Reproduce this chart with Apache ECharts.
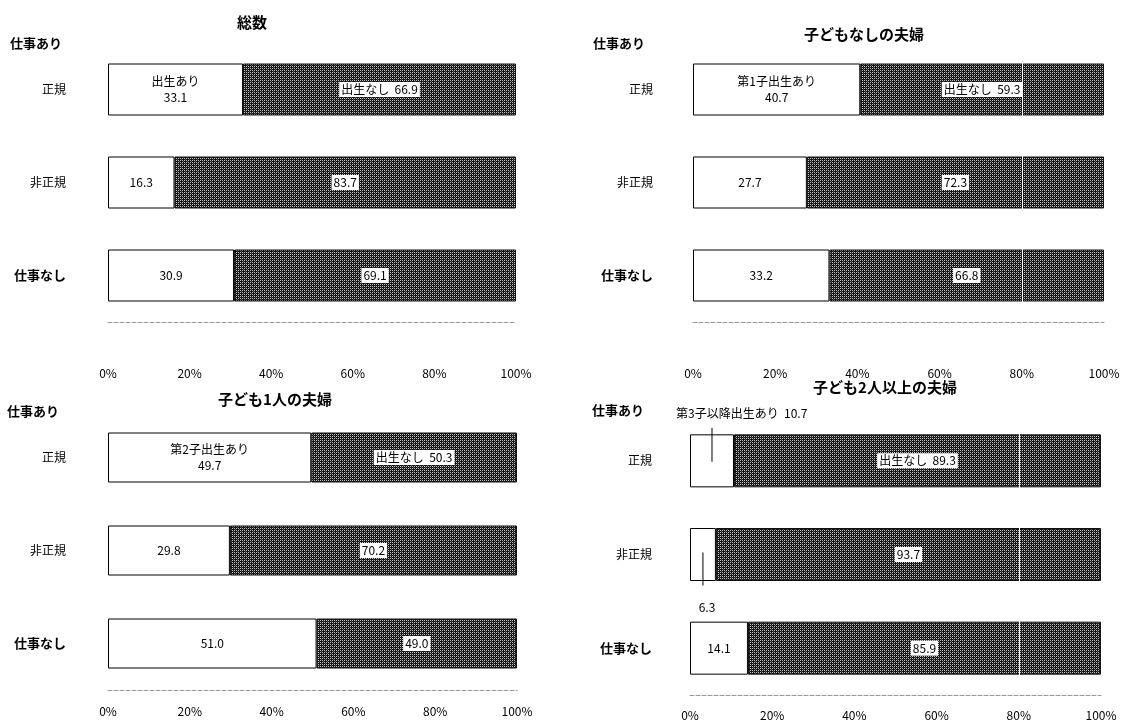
<!DOCTYPE html>
<html>
<head>
<meta charset="utf-8">
<script src="https://cdn.jsdelivr.net/npm/echarts@6/dist/echarts.min.js"></script>
<style>
html,body{margin:0;padding:0;background:#fff;}
#main{width:1132px;height:724px;}
</style>
</head>
<body>
<div id="main"></div>
<script>
// 行ラベル
var rows = ['正規', '非正規', '仕事なし'];
var titles = ['総数', '子どもなしの夫婦', '子ども1人の夫婦', '子ども2人以上の夫婦'];
var yesNames = ['出生あり', '第1子出生あり', '第2子出生あり', '第3子以降出生あり'];
var noName = '出生なし';
var xTicks = [0, 20, 40, 60, 80, 100];

// 総数
var totalYes = [33.1, 16.3, 30.9];
var totalNo = [66.9, 83.7, 69.1];
// 子どもなしの夫婦
var noneYes = [40.7, 27.7, 33.2];
var noneNo = [59.3, 72.3, 66.8];
// 子ども1人の夫婦
var oneYes = [49.7, 29.8, 51.0];
var oneNo = [50.3, 70.2, 49.0];
// 子ども2人以上の夫婦
var twoYes = [10.7, 6.3, 14.1];
var twoNo = [89.3, 93.7, 85.9];

var yesData = [totalYes, noneYes, oneYes, twoYes];
var noData = [totalNo, noneNo, oneNo, twoNo];

var font = '"Noto Sans CJK JP", sans-serif';

// 網掛けパターン
var pat = document.createElement('canvas');
pat.width = 4; pat.height = 4;
var pc = pat.getContext('2d');
pc.fillStyle = '#141414';
pc.fillRect(0, 0, 4, 4);
pc.fillStyle = '#c4c4c4';
[[0,0],[2,0],[0,2],[2,2]].forEach(function(p){ pc.fillRect(p[0], p[1], 1, 1); });
pc.fillStyle = '#4a4a4a';
[[1,3],[3,1]].forEach(function(p){ pc.fillRect(p[0], p[1], 1, 1); });

var grids = [
	{left: 108, right: 616, top: 43, height: 279},
	{left: 693, right: 28, top: 43, height: 279},
	{left: 108, right: 615, top: 411, height: 279},
	{left: 690, right: 31, top: 414, height: 281}
];
var barW = [52, 52, 50, 53];
var labMargin = [45, 45, 15, 14];
var yMargin = [42, 40, 42, 38];
var titlePos = [[247, 10], [859, 22], [270, 387], [880, 375]];
var workPos = [[40, 46], [623, 46], [37, 414], [622, 413]];

var fmt = function(v){ return Number(v).toFixed(1); };

var xAxes = [], yAxes = [], series = [], titleList = [], graphics = [];
for (var i = 0; i < 4; i++) {
	xAxes.push({
		gridIndex: i, type: 'value', min: 0, max: 100, interval: 20,
		axisLine: {show: true, lineStyle: {color: '#999', type: 'dashed', width: 1}},
		axisTick: {show: false},
		splitLine: {show: false},
		axisLabel: {margin: labMargin[i], color: '#000', fontSize: 12, fontFamily: font, formatter: '{value}%'}
	});
	yAxes.push({
		gridIndex: i, type: 'category', inverse: true, data: rows,
		axisLine: {show: false}, axisTick: {show: false},
		axisLabel: {
			margin: yMargin[i], color: '#000', fontFamily: font,
			formatter: function(v){ return v === '仕事なし' ? '{b|' + v + '}' : '{a|' + v + '}'; },
			rich: {
				a: {fontSize: 12, fontFamily: font, color: '#000'},
				b: {fontSize: 13, fontWeight: 'bold', fontFamily: font, color: '#000'}
			}
		}
	});
	titleList.push({
		text: titles[i], left: titlePos[i][0], top: titlePos[i][1], textAlign: 'center',
		textStyle: {fontSize: 15, fontWeight: 'bold', fontFamily: font, color: '#000'}
	});
	graphics.push({
		type: 'text', left: workPos[i][0] - 30, top: workPos[i][1] - 9,
		style: {text: '仕事あり', font: 'bold 13px ' + font, fill: '#000'}
	});

	var yesItems = yesData[i].map(function(v, k){
		var item = {value: v};
		if (i === 3 && k === 0) {
			item.label = {position: [-14, -21], align: 'left', verticalAlign: 'middle',
				formatter: yesNames[3] + '  ' + fmt(v)};
		} else if (i === 3 && k === 1) {
			item.label = {position: [17, 79], align: 'center', verticalAlign: 'middle'};
		}
		return item;
	});
	(function(idx){
		series.push({
			name: yesNames[idx], type: 'bar', stack: 's' + idx,
			xAxisIndex: idx, yAxisIndex: idx, barWidth: barW[idx],
			itemStyle: {color: '#fff', borderColor: '#000', borderWidth: 1},
			label: {
				show: true, position: 'inside', color: '#000', fontSize: 12, fontFamily: font, lineHeight: 16,
				formatter: function(p){
					return (p.dataIndex === 0 ? yesNames[idx] + '\n' : '') + fmt(p.value);
				}
			},
			data: yesItems
		});
		series.push({
			name: noName, type: 'bar', stack: 's' + idx,
			xAxisIndex: idx, yAxisIndex: idx, barWidth: barW[idx],
			itemStyle: {color: {image: pat, repeat: 'repeat'}, borderColor: '#111', borderWidth: 1},
			label: {
				show: true, position: 'inside', color: '#000', fontSize: 12, fontFamily: font,
				backgroundColor: '#fff', padding: [2, 2, 1, 2],
				formatter: function(p){
					return (p.dataIndex === 0 ? noName + '  ' : '') + fmt(p.value);
				}
			},
			markLine: (idx === 1 || idx === 3) ? {
				silent: true, symbol: 'none', label: {show: false},
				lineStyle: {color: '#fff', type: 'solid', width: 1},
				data: [{xAxis: 80}]
			} : undefined,
			data: noData[idx]
		});
	})(i);
}

var chart = echarts.init(document.getElementById('main'));
chart.setOption({
	backgroundColor: '#fff',
	animation: false,
	title: titleList,
	grid: grids,
	xAxis: xAxes,
	yAxis: yAxes,
	series: series,
	graphic: graphics
});

// 引き出し線（子ども2人以上の夫婦、白い部分の中央から）
var p0 = chart.convertToPixel({gridIndex: 3}, [twoYes[0] / 2, rows[0]]);
var p1 = chart.convertToPixel({gridIndex: 3}, [twoYes[1] / 2, rows[1]]);
graphics.push({type: 'line', z: 100, shape: {x1: p0[0], y1: p0[1] - 33, x2: p0[0], y2: p0[1] + 1}, style: {stroke: '#000', lineWidth: 1}});
graphics.push({type: 'line', z: 100, shape: {x1: p1[0], y1: p1[1] - 2, x2: p1[0], y2: p1[1] + 31}, style: {stroke: '#000', lineWidth: 1}});
chart.setOption({graphic: graphics});
</script>
</body>
</html>
